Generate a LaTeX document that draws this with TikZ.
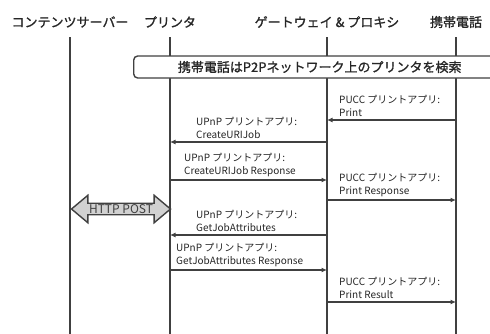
\documentclass[tikz,border=0pt]{standalone}
\usepackage{fontspec}
\setmainfont{Noto Sans CJK JP}
\newfontfamily\medjp{Noto Sans CJK JP}[FakeBold=1.2]
\usetikzlibrary{arrows.meta,shapes.arrows}
\tikzset{life/.style={line width=1.4pt, draw=black!75},
  msg/.style={-{Latex[length=5.5pt,width=5pt]}, line width=1.4pt, draw=black!75},
  head/.style={font=\fontsize{13}{15}\medjp, text=black!85},
  lbl/.style={anchor=south west, align=left, inner sep=0pt, text=black!85,
    font=\fontsize{10}{13}\selectfont}}

\begin{document}
\begin{tikzpicture}[x=1pt, y=-1pt]
    \useasboundingbox (0,0) rectangle (490,333);
    % lifelines
    \node[head] (cs) at (70,22) {コンテンツサーバー};
    \node[head] (pr) at (170,22) {プリンタ};
    \node[head] (gw) at (327,22) {ゲートウェイ \& プロキシ};
    \node[head] (mb) at (456,22) {携帯電話};
    \foreach \n in {cs,pr,gw,mb}
      \draw[life] (\n |- 0,37) -- (\n |- 0,340);
    \node[draw=black!75, line width=1.4pt, fill=white, rounded corners=4pt, anchor=west,
      minimum width=372pt, minimum height=22pt, head] (search) at (133,67)
      {携帯電話はP2Pネットワーク上のプリンタを検索};
    % messages
    \draw[msg] (mb |- 0,120) -- (gw |- 0,120);
    \node[lbl] (print) at (339,117) {PUCC プリントアプリ:\\Print};
    \draw[msg] (gw |- 0,142) -- (pr |- 0,142);
    \node[lbl] (curi) at (196,139) {UPnP プリントアプリ:\\CreateURIJob};
    \draw[msg] (pr |- 0,180) -- (gw |- 0,180);
    \node[lbl] (curires) at (184,177) {UPnP プリントアプリ:\\CreateURIJob Response};
    \draw[msg] (gw |- 0,200) -- (mb |- 0,200);
    \node[lbl] (printres) at (339,197) {PUCC プリントアプリ:\\Print Response};
    \node[double arrow, draw=black!75, line width=1.4pt, fill=black!18, text=black!75,
      minimum height=99pt, inner ysep=0.5pt, double arrow head extend=8pt,
      double arrow tip angle=80, font=\fontsize{12}{14}\selectfont] (http) at (121,209) {HTTP POST};
    \draw[msg] (gw |- 0,235) -- (pr |- 0,235);
    \node[lbl] (gja) at (196,232) {UPnP プリントアプリ:\\GetJobAttributes};
    \draw[msg] (pr |- 0,270) -- (gw |- 0,270);
    \node[lbl] (gjares) at (176,267) {UPnP プリントアプリ:\\GetJobAttributes Response};
    \draw[msg] (gw |- 0,302) -- (mb |- 0,302);
    \node[lbl] (result) at (339,299) {PUCC プリントアプリ:\\Print Result};
\end{tikzpicture}
\end{document}
